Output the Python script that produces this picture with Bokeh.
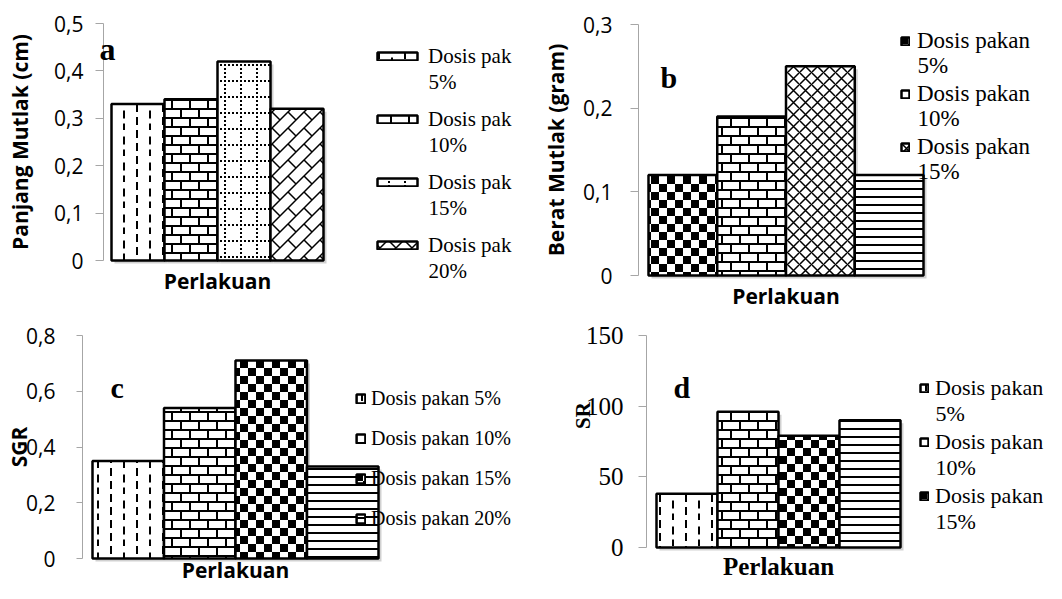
import math
from bokeh.plotting import figure
from bokeh.models import (ColumnDataSource, Range1d, FixedTicker, Legend, LegendItem,
                          Label, CanvasTexture, LinearAxis)
from bokeh.layouts import column, row
from bokeh.embed import file_html
from bokeh.resources import INLINE

# ---------------- data ----------------
x_pos = [1, 2, 3, 4]

a_values = [0.33, 0.34, 0.42, 0.32]
a_legend = ["Dosis pak", "Dosis pak", "Dosis pak", "Dosis pak"]
a_legend2 = ["5%", "10%", "15%", "20%"]
a_ticks = [0, 0.1, 0.2, 0.3, 0.4, 0.5]
a_tick_labels = ["0", "0,1", "0,2", "0,3", "0,4", "0,5"]

b_values = [0.12, 0.19, 0.25, 0.12]
b_legend = ["Dosis pakan", "Dosis pakan", "Dosis pakan"]
b_legend2 = ["5%", "10%", "15%"]
b_ticks = [0, 0.1, 0.2, 0.3]
b_tick_labels = ["0", "0,1", "0,2", "0,3"]

c_values = [0.35, 0.54, 0.71, 0.33]
c_legend = ["Dosis pakan 5%", "Dosis pakan 10%", "Dosis pakan 15%", "Dosis pakan 20%"]
c_ticks = [0, 0.2, 0.4, 0.6, 0.8]
c_tick_labels = ["0", "0,2", "0,4", "0,6", "0,8"]

d_values = [38, 96, 79, 90]
d_legend = ["Dosis pakan", "Dosis pakan", "Dosis pakan"]
d_legend2 = ["5%", "10%", "15%"]
d_ticks = [0, 50, 100, 150]
d_tick_labels = ["0", "50", "100", "150"]

# ---------------- fill textures ----------------
BODIES = {
    "brick": """
const h = s/2;
ctx.beginPath();
ctx.moveTo(0, w/2); ctx.lineTo(s, w/2);
ctx.moveTo(0, h + w/2); ctx.lineTo(s, h + w/2);
ctx.moveTo(w/2, 0); ctx.lineTo(w/2, h);
ctx.moveTo(h + w/2, h); ctx.lineTo(h + w/2, s);
ctx.stroke();
""",
    "checker": """
const h = s/2;
ctx.fillRect(0, 0, h, h); ctx.fillRect(h, h, h, h);
""",
    "vdash": """
const x1 = Math.round(s/4), x2 = Math.round(3*s/4), L = Math.round(s*0.3);
ctx.beginPath();
ctx.moveTo(x1, 0); ctx.lineTo(x1, L);
ctx.moveTo(x1, s/2); ctx.lineTo(x1, s/2 + L);
ctx.moveTo(x2, s/4); ctx.lineTo(x2, s/4 + L);
ctx.moveTo(x2, 3*s/4); ctx.lineTo(x2, s);
ctx.stroke();
""",
    "dotgrid": """
for (let i = 0; i < s; i += 4) { ctx.fillRect(i, 0, 2, 2); ctx.fillRect(0, i, 2, 2); }
""",
    "zigzag": """
ctx.beginPath();
ctx.moveTo(0, s); ctx.lineTo(s, 0);
ctx.moveTo(-2, 2); ctx.lineTo(2, -2);
ctx.moveTo(s - 2, s + 2); ctx.lineTo(s + 2, s - 2);
ctx.moveTo(0, 0); ctx.lineTo(s/2, s/2);
ctx.stroke();
""",
}


def texture(kind, size, weight):
    head = (f"const s = {size}, w = {weight};\n"
            "ctx.canvas.width = s; ctx.canvas.height = s;\n"
            "ctx.strokeStyle = 'black'; ctx.fillStyle = 'black'; ctx.lineWidth = w;\n")
    return CanvasTexture(code=head + BODIES[kind])


textures = {
    "brick": texture("brick", 18, 2),
    "checker": texture("checker", 16, 1),
    "vdash": texture("vdash", 26, 2),
    "dotgrid": texture("dotgrid", 16, 1),
    "zigzag": texture("zigzag", 16, 1.5),
}

AXIS_GREY = "#a6a6a6"
SANS = "Open Sans"
SERIF = "Liberation Serif"


class Geo:
    """maps picture pixels to data units for one panel"""
    def __init__(self, ox, oy, W, H, bar_left, ppu, y0, ytop, ymax):
        self.ox, self.oy, self.W, self.H = ox, oy, W, H
        self.ppu = ppu
        self.y0 = y0
        self.ppy = (y0 - ytop) / ymax
        self.xs = 0.5 - (bar_left - ox) / ppu
        self.xe = self.xs + W / ppu
        self.ys = -(oy + H - y0) / self.ppy
        self.ye = (y0 - oy) / self.ppy

    def x(self, px):
        return self.xs + (px - self.ox) / self.ppu

    def y(self, py):
        return (self.y0 - py) / self.ppy

    def dx(self, d):
        return d / self.ppu

    def dy(self, d):
        return d / self.ppy

    def loc(self, px, py_bottom):
        return (px - self.ox, self.oy + self.H - py_bottom)


def make_panel(g, values, ymax, ticks, tick_labels, hatches, hscales, hweights,
               axis_px, tick_font, tick_size, tick_out, tick_standoff,
               ytitle, ytitle_standoff, xtitle_font, xtitle_size, xtitle_standoff,
               legend_labels, legend_opts):
    p = figure(width=g.W, height=g.H, x_range=Range1d(g.xs, g.xe),
               y_range=Range1d(g.ys, g.ye), output_backend="svg",
               toolbar_location=None, tools="", min_border=0,
               x_axis_location=None, y_axis_location=None)
    p.grid.visible = False
    p.outline_line_color = None
    p.background_fill_color = "white"
    p.border_fill_color = "white"

    shadow = ColumnDataSource(dict(x=[v + g.dx(3) for v in x_pos],
                                   top=[v - g.dy(3) for v in values]))
    p.vbar(x="x", top="top", bottom=-g.dy(3), width=1.0, source=shadow,
           fill_color="#bdbdbd", fill_alpha=0.7, line_color=None)

    src = ColumnDataSource(dict(x=x_pos, top=values, hatch=hatches,
                                hscale=hscales, hweight=hweights))
    r = p.vbar(x="x", top="top", width=1.0, source=src, fill_color="white",
               line_color="black", line_width=2.5, hatch_pattern="hatch",
               hatch_scale="hscale", hatch_weight="hweight", hatch_color="black",
               hatch_extra=textures)

    ya = LinearAxis(fixed_location=g.x(axis_px), bounds=(0, ymax),
                    ticker=FixedTicker(ticks=ticks),
                    major_label_overrides={t: l for t, l in zip(ticks, tick_labels)},
                    axis_line_color=AXIS_GREY, major_tick_line_color=AXIS_GREY,
                    minor_tick_line_color=None, major_tick_out=tick_out, major_tick_in=0,
                    major_label_standoff=tick_standoff, major_label_text_font=tick_font,
                    major_label_text_font_size=tick_size, major_label_text_color="black")
    if ytitle:
        ya.axis_label = ytitle
        ya.axis_label_text_font = SANS
        ya.axis_label_text_font_style = "bold"
        ya.axis_label_text_font_size = "21px"
        ya.axis_label_text_color = "black"
        ya.axis_label_standoff = ytitle_standoff
    p.add_layout(ya, "left")

    xa = LinearAxis(fixed_location=0, bounds=(0.5, 4.5), ticker=FixedTicker(ticks=[]),
                    axis_line_color=None, major_tick_line_color=None,
                    minor_tick_line_color=None, major_tick_out=0, major_tick_in=0,
                    major_label_standoff=0, major_label_text_font_size="0px",
                    axis_label="Perlakuan", axis_label_text_font=xtitle_font,
                    axis_label_text_font_style="bold", axis_label_text_font_size=xtitle_size,
                    axis_label_text_color="black", axis_label_standoff=xtitle_standoff)
    p.add_layout(xa, "below")

    items = [LegendItem(label=lab, renderers=[r], index=i)
             for i, lab in enumerate(legend_labels)]
    leg = Legend(items=items, orientation="vertical", padding=0, margin=0,
                 border_line_color=None, background_fill_alpha=0, label_height=30,
                 label_text_font=SERIF, label_text_color="black", **legend_opts)
    p.add_layout(leg)
    return p


def add_text(p, g, text, px, py, size, bold=False, baseline="alphabetic",
             align="left", angle=0.0):
    p.add_layout(Label(x=g.x(px), y=g.y(py), text=text, text_font=SERIF,
                       text_font_style="bold" if bold else "normal",
                       text_font_size=size, text_color="black", angle=angle,
                       text_align=align, text_baseline=baseline))


W_FIG, H_TOP, H_BOT = 523, 312, 271

# panel a
ga = Geo(0, 0, W_FIG, H_TOP, bar_left=111, ppu=53, y0=260, ytop=23, ymax=0.5)
pa = make_panel(ga, a_values, 0.5, a_ticks, a_tick_labels,
                ["vdash", "brick", "dotgrid", "zigzag"], [26, 18, 16, 16], [2, 2, 1, 1.5],
                103, SANS, "21px", 8, 12, "Panjang Mutlak (cm)", 17, SANS, "21px", 6,
                a_legend, dict(location=ga.loc(372, 260), glyph_width=50, glyph_height=10,
                               label_standoff=6, spacing=33, label_text_font_size="21px"))
add_text(pa, ga, "a", 99, 48, "32px", bold=True)
for i, t in enumerate(a_legend2):
    add_text(pa, ga, t, 428, 81 + 63 * i, "21px", baseline="middle")

# panel b
gb = Geo(W_FIG, 0, W_FIG, H_TOP, bar_left=648, ppu=68.75, y0=275, ytop=24, ymax=0.3)
pb = make_panel(gb, b_values, 0.3, b_ticks, b_tick_labels,
                ["checker", "brick", "diagonal_cross", "horizontal_line"], [16, 18, 12, 8],
                [1, 2, 1.5, 2],
                638, SANS, "21px", 8, 18, "Berat Mutlak (gram)", 10, SANS, "21px", 6,
                b_legend, dict(location=gb.loc(900, 162), glyph_width=10, glyph_height=10,
                               label_standoff=7, spacing=23, label_text_font_size="23px"))
add_text(pb, gb, "b", 660, 77, "30px", bold=True)
for i, t in enumerate(b_legend2):
    add_text(pb, gb, t, 917, 65 + 53 * i, "23px", baseline="middle")

# panel c
gc = Geo(0, H_TOP, W_FIG, H_BOT, bar_left=92, ppu=71.5, y0=558, ytop=335, ymax=0.8)
pc = make_panel(gc, c_values, 0.8, c_ticks, c_tick_labels,
                ["vdash", "brick", "checker", "horizontal_line"], [26, 18, 16, 8], [2, 2, 1, 2],
                82, SANS, "21px", 6, 21, "SGR", -10, SANS, "21px", -3,
                c_legend, dict(location=gc.loc(355, 533), glyph_width=11, glyph_height=11,
                               label_standoff=5, spacing=10, label_text_font_size="20px"))
add_text(pc, gc, "c", 110, 387, "30px", bold=True)

# panel d
gd = Geo(W_FIG, H_TOP, W_FIG, H_BOT, bar_left=656, ppu=61, y0=547, ytop=335, ymax=150)
pd = make_panel(gd, d_values, 150, d_ticks, d_tick_labels,
                ["vdash", "brick", "checker", "horizontal_line"], [26, 18, 16, 8], [2, 2, 1, 2],
                646, SERIF, "25px", 8, 15, None, 0, SERIF, "25px", 5,
                d_legend, dict(location=gd.loc(919, 511), glyph_width=10, glyph_height=10,
                               label_standoff=6, spacing=24, label_text_font_size="22px"))
add_text(pd, gd, "d", 673, 387, "30px", bold=True)
for i, t in enumerate(d_legend2):
    add_text(pd, gd, t, 935, 413 + 54 * i, "22px", baseline="middle")
add_text(pd, gd, "SR", 582, 415, "21px", bold=True, baseline="middle", align="center",
         angle=math.pi / 2)

layout = column(row(pa, pb), row(pc, pd))
open("out.html", "w").write(file_html(layout, INLINE))
